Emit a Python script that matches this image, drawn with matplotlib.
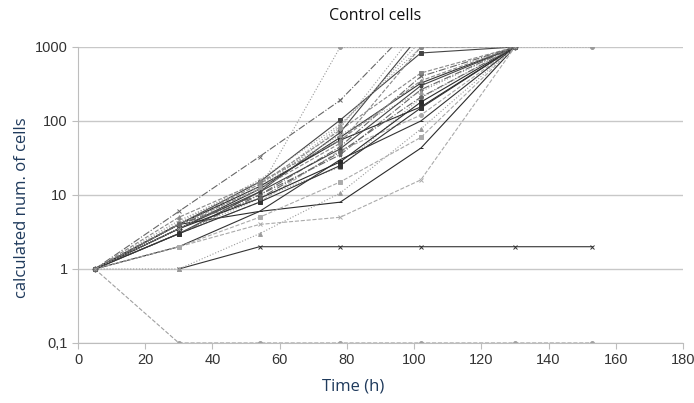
import numpy as np
import matplotlib
matplotlib.use("Agg")
import matplotlib.pyplot as plt
from matplotlib.ticker import FixedLocator, NullLocator

nan = np.nan

# sampling times (h)
times = [5, 30, 54, 78, 102, 130, 153]

# calculated number of cells per well at each time point
counts = [
    [1, 0.1, 0.1, 0.1, 0.1, 0.1, 0.1],
    [nan, 1, 2, 2, 2, 2, 2],
    [1, 6, 33, 190, 2500, 1000, nan],
    [1, 4, 12, 1000, 1000, 1000, 1000],
    [1, 4, 6, 8, 43, 1000, nan],
    [1, 2, 4, 5, 16, 1000, nan],
    [1, 1, 3, 10.6, 78, 1000, nan],
    [1, 4, 15, 103, 830, 1000, nan],
    [1, 4, 14, 75, 445, 1000, nan],
    [1, 3.5, 12, 60, 325, 1000, nan],
    [1, 4, 10, 35, 265, 1000, nan],
    [1, 3, 9, 24, 205, 1000, nan],
    [1, 4, 13, 55, 155, 1000, nan],
    [1, 3, 8, 40, 120, 1000, nan],
    [1, 4.2, 16, 90, 1000, 1000, nan],
    [1, 3, 11, 70, 1500, 1000, nan],
    [1, 4, 12, 50, 1000, 1000, nan],
    [1, 2, 6, 30, 100, 1000, nan],
    [1, 3, 10, 45, 400, 1000, nan],
    [1, 4.5, 14, 65, 250, 1000, nan],
    [1, 3.5, 9, 28, 180, 1000, nan],
    [1, 2, 5, 15, 60, 1000, nan],
    [1, 4, 12, 80, 2000, 1000, nan],
    [1, 3.5, 11, 42, 300, 1000, nan],
    [1, 5, 15, 55, 350, 1000, nan],
    [1, 3, 8, 25, 150, 1000, nan],
    [1, 4, 9, 38, 210, 1000, nan],
    [1, 3.5, 13, 85, 1200, 1000, nan],
]

# grey-scale line styles, repeated over the wells
colors = ["#888888", "#333333", "#666666", "#999999", "#2a2a2a", "#aaaaaa", "#9a9a9a", "#444444"]
dashes = ["--", "-", "-.", ":", "-", "--", ":", "-"]
marks = ["o", "x", "x", "o", "_", "x", "^", "s", "s", "D", "*", "^", "s"]

fig = plt.figure(figsize=(6.94, 4.03), dpi=100)
ax = fig.add_axes([0.1124, 0.1489, 0.8718, 0.7345])

for i, c in enumerate(counts):
    if i == 0:
        col, ls, mk = "#a0a0a0", "--", "o"
    elif i == 1:
        col, ls, mk = "#333333", "-", "x"
    else:
        col, ls, mk = colors[i % len(colors)], dashes[i % len(dashes)], marks[i % len(marks)]
    ax.plot(times, c, color=col, linestyle=ls, linewidth=0.8,
            marker=mk, markersize=2.8, markeredgewidth=0.7, markerfacecolor=col)

ax.set_yscale("log")
ax.set_ylim(0.1, 1000)
ax.set_xlim(0, 180)
ax.yaxis.set_major_locator(FixedLocator([0.1, 1, 10, 100, 1000]))
ax.yaxis.set_minor_locator(NullLocator())
ax.set_yticklabels(["0,1", "1", "10", "100", "1000"])
ax.set_xticks(range(0, 181, 20))
ax.grid(axis="y", color="#c8c8c8", linewidth=1.0)
ax.set_axisbelow(True)

for side in ["top", "right"]:
    ax.spines[side].set_visible(False)
for side in ["left", "bottom"]:
    ax.spines[side].set_color("#bdbdbd")
ax.tick_params(length=4, color="#bdbdbd", labelcolor="#333333",
               labelsize=10.5)
for lab in ax.get_xticklabels() + ax.get_yticklabels():
    lab.set_fontfamily("Liberation Sans")

fig.text(0.54, 0.96, "Control cells", ha="center", va="center",
         fontsize=11.5, family="Open Sans", color="#111111")
fig.text(0.032, 0.485, "calculated num. of cells", ha="center", va="center",
         rotation=90, fontsize=12, family="Open Sans", color="#1f3a5c")
fig.text(0.509, 0.04, "Time (h)", ha="center", va="center",
         fontsize=12, family="Open Sans", color="#1f3a5c")

fig.savefig("out.png", dpi=100)
